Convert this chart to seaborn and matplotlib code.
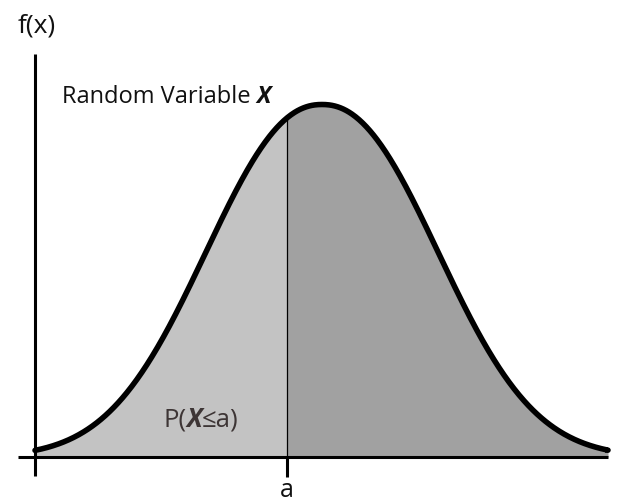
import numpy as np
import matplotlib
matplotlib.use("Agg")
import matplotlib.pyplot as plt
import seaborn as sns
import pandas as pd

# bell-shaped density (x in units of 100 px from the peak)
centre = 0.0
spread = 1.533
shape_power = 2.2
x_start = -2.87      # curve starts at the f(x) axis
x_end = 2.86         # curve ends at the right end of the x axis
a_value = -0.35      # position of "a"

left_color = "#c3c3c3"
right_color = "#a1a1a1"
label_color = "#3d3535"

sns.set_theme(style="white")
plt.rcParams["font.family"] = ["Open Sans", "DejaVu Sans"]

W, H = 617, 502
fig = plt.figure(figsize=(W / 100, H / 100), dpi=100)
ax = fig.add_axes([0, 0, 1, 1])
ax.set_axis_off()

# pixel mapping: peak at px 322, baseline px 458, top of curve px 105.5
px_per_x = 100.0
x0_px = 322.0
base_px = 458.0
px_per_y = base_px - 105.5
ax.set_xlim((0 - x0_px) / px_per_x, (W - x0_px) / px_per_x)
ax.set_ylim((base_px - H) / px_per_y, base_px / px_per_y)


def px_x(p):
    return (p - x0_px) / px_per_x


def px_y(p):
    return (base_px - p) / px_per_y


def density(x):
    return np.exp(-(np.abs(x - centre) / spread) ** shape_power)


xs = np.linspace(x_start, x_end, 800)
df = pd.DataFrame({"x": xs, "f": density(xs)})
fa = density(a_value)

left = df[df.x <= a_value]
right = df[df.x >= a_value]
ax.fill_between(np.append(left.x, a_value), 0, np.append(left.f, fa), color=left_color, lw=0)
ax.fill_between(np.insert(right.x.values, 0, a_value), 0, np.insert(right.f.values, 0, fa),
                color=right_color, lw=0)

# axes
ax.plot([px_x(18), x_end], [0, 0], color="black", lw=2.2, solid_capstyle="butt")
ax.plot([x_start, x_start], [px_y(477), px_y(55)], color="black", lw=2.2, solid_capstyle="butt")
ax.plot([a_value, a_value], [px_y(478), 0], color="black", lw=2.2, solid_capstyle="butt")
ax.plot([a_value, a_value], [0, fa], color="black", lw=0.9)

sns.lineplot(data=df, x="x", y="f", ax=ax, color="black", lw=4.0, sort=False)
ax.plot([x_end - 0.03, x_end], [df.f.iloc[-1]] * 2, color="black", lw=4.0, solid_capstyle="butt")

fig.text(18 / W, 1 - 33 / H, "f(x)", fontsize=19, color="#111111")
fig.text(287 / W, 1 - 497 / H, "a", fontsize=18, color="#111111", ha="center")


def run_text(x_px, y_px, parts, size, color):
    renderer = fig.canvas.get_renderer()
    x = x_px / W
    for s, weight, style in parts:
        t = fig.text(x, 1 - y_px / H, s, fontsize=size, color=color,
                     fontweight=weight, fontstyle=style)
        bb = t.get_window_extent(renderer=renderer)
        x = bb.x1 / W


run_text(62, 103, [("Random Variable ", "normal", "normal"), ("X", "bold", "italic")],
         17, "#111111")
run_text(163, 427, [("P(", "normal", "normal"), ("X", "bold", "italic"), ("≤a)", "normal", "normal")],
         18.5, label_color)

fig.savefig("out.png", dpi=100)
